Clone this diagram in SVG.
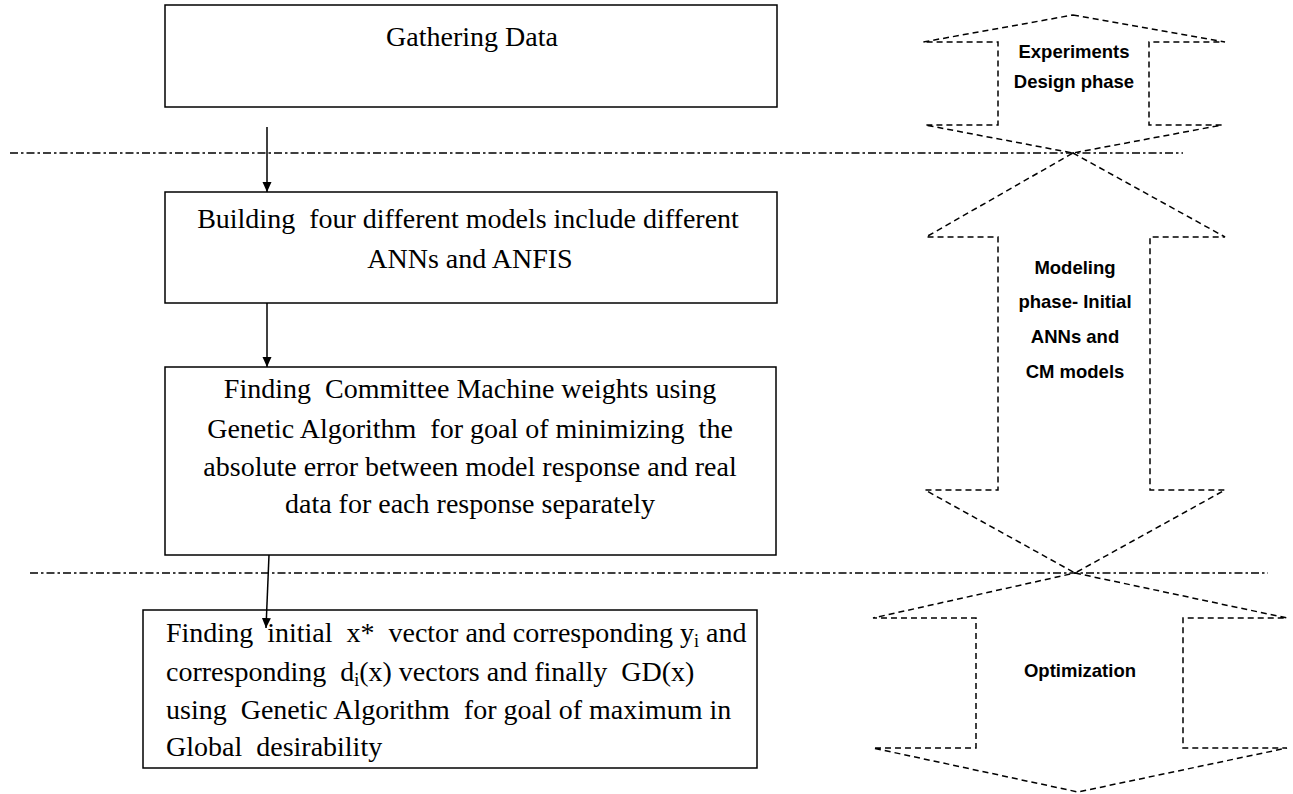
<svg xmlns="http://www.w3.org/2000/svg" width="1293" height="794" viewBox="0 0 1293 794">
<defs>
<style>
.box{fill:#fff;stroke:#000;stroke-width:1.5}
.t{font-family:"Liberation Serif","Times New Roman",serif;font-size:28px;fill:#000;white-space:pre}
.c{text-anchor:middle}
.ph{fill:none;stroke:#000;stroke-width:1.5;stroke-dasharray:6 4}
.lbl{font-family:"Liberation Sans",Arial,sans-serif;font-weight:bold;font-size:18.5px;fill:#000;text-anchor:middle}
.dd{stroke:#000;stroke-width:1.3;stroke-dasharray:8 3 2.5 3;fill:none}
.cn{stroke:#000;stroke-width:1.5;fill:none}
</style>
<marker id="ah" viewBox="0 0 10 10" refX="10" refY="5" markerWidth="10" markerHeight="10" markerUnits="userSpaceOnUse" orient="auto">
<path d="M0,0.5 L10,5 L0,9.5 Z" fill="#000"/>
</marker>
</defs>
<rect width="1293" height="794" fill="#fff"/>

<g id="separators">
<line class="dd" x1="10" y1="153" x2="1183" y2="153"/>
<line class="dd" x1="30" y1="573" x2="1268" y2="573"/>
</g>

<g id="node-gathering">
<rect class="box" x="165" y="5" width="612" height="102"/>
<text class="t c" x="472" y="46">Gathering Data</text>
</g>

<g id="node-building">
<rect class="box" x="165" y="192" width="612" height="111"/>
<text class="t c" x="468" y="228">Building  four different models include different</text>
<text class="t c" x="470" y="268">ANNs and ANFIS</text>
</g>

<g id="node-committee">
<rect class="box" x="165" y="367" width="611" height="188"/>
<text class="t c" x="470" y="398">Finding  Committee Machine weights using</text>
<text class="t c" x="470" y="438">Genetic Algorithm  for goal of minimizing  the</text>
<text class="t c" x="470" y="476">absolute error between model response and real</text>
<text class="t c" x="470" y="513">data for each response separately</text>
</g>

<g id="node-optimization">
<rect class="box" x="143" y="610" width="614" height="158"/>
<text class="t" x="166" y="642">Finding  initial  x*  vector and corresponding y<tspan font-size="18" dy="5">i</tspan><tspan dy="-5"> and</tspan></text>
<text class="t" x="166" y="681">corresponding  d<tspan font-size="18" dy="5">i</tspan><tspan dy="-5">(x) vectors and finally  GD(x)</tspan></text>
<text class="t" x="166" y="719">using  Genetic Algorithm  for goal of maximum in</text>
<text class="t" x="166" y="756">Global  desirability</text>
</g>

<g id="phase-experiments">
<polygon class="ph" points="1073,15 1225,42 1149,42 1149,125 1222,125 1073,153 925,125 998,125 998,42 923,42"/>
<text class="lbl" x="1074" y="58">Experiments</text>
<text class="lbl" x="1074" y="88">Design phase</text>
</g>

<g id="phase-modeling">
<polygon class="ph" points="1073,153 1225,237 1150,237 1150,490 1225,490 1075,573 925,490 998,490 998,237 926,237"/>
<text class="lbl" x="1075" y="274">Modeling</text>
<text class="lbl" x="1075" y="308">phase- Initial</text>
<text class="lbl" x="1075" y="343">ANNs and</text>
<text class="lbl" x="1075" y="378">CM models</text>
</g>

<g id="phase-optimization">
<polygon class="ph" points="1075,573 1287,618 1183,618 1183,748 1287,748 1078,792 873,748 976,748 976,618 873,618"/>
<text class="lbl" x="1080" y="677">Optimization</text>
</g>

<g id="connectors">
<line class="cn" x1="267" y1="127" x2="267" y2="192" marker-end="url(#ah)"/>
<line class="cn" x1="267" y1="303" x2="267" y2="367" marker-end="url(#ah)"/>
<line class="cn" x1="269" y1="555" x2="266" y2="628" marker-end="url(#ah)"/>
</g>
</svg>
